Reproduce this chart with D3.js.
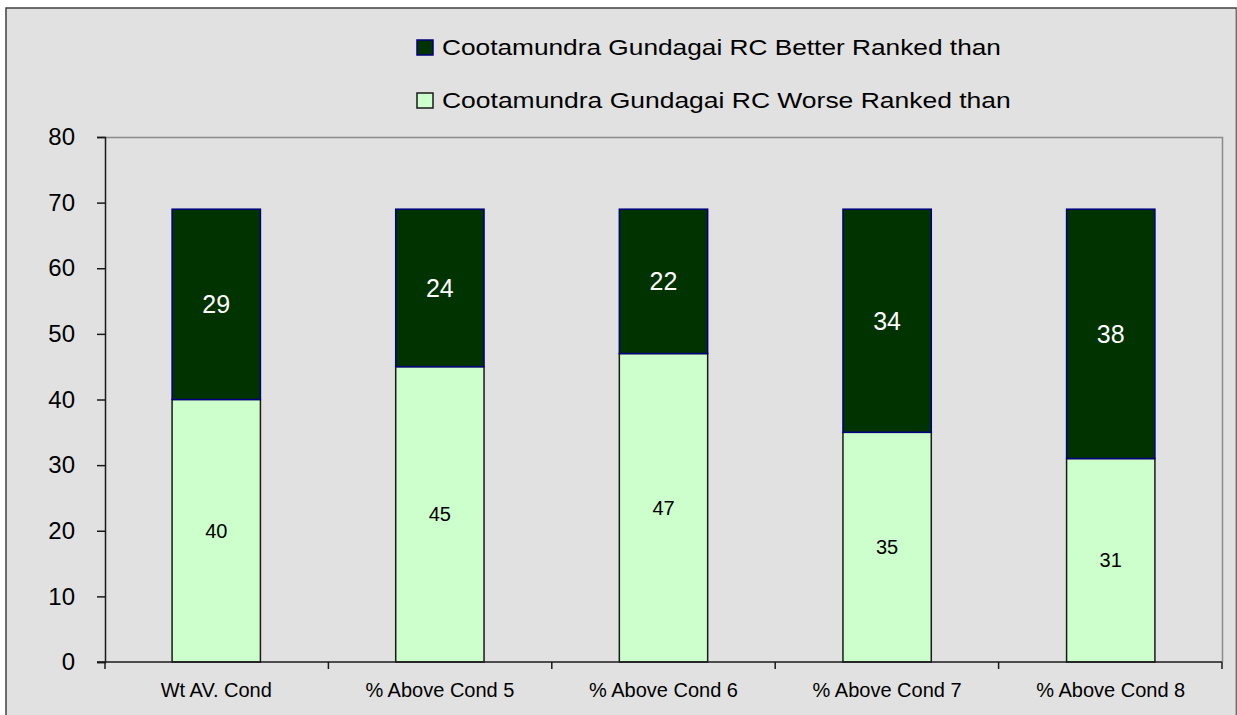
<!DOCTYPE html>
<html>
<head>
<meta charset="utf-8">
<script src="https://cdn.jsdelivr.net/npm/d3@7"></script>
<style>
  html, body { margin: 0; padding: 0; background: #ffffff; }
  svg { display: block; font-family: Arial, "Liberation Sans", sans-serif; }
</style>
</head>
<body>
<svg id="chart"></svg>
<script>
// data
var categories = ["Wt AV. Cond", "% Above Cond 5", "% Above Cond 6", "% Above Cond 7", "% Above Cond 8"];
var worseRanked = [40, 45, 47, 35, 31];
var betterRanked = [29, 24, 22, 34, 38];
var seriesNames = ["Cootamundra Gundagai RC Better Ranked than", "Cootamundra Gundagai RC Worse Ranked than"];
var yTicks = [0, 10, 20, 30, 40, 50, 60, 70, 80];

var width = 1237, height = 715;
var margins = { left: 105, right: 1237 - 1222, top: 137, bottom: 715 - 662 };

var svg = d3.select("svg#chart").attr("width", width).attr("height", height);

// chart frame
svg.append("rect")
  .attr("x", 6).attr("y", 8)
  .attr("width", 1230).attr("height", 720)
  .attr("fill", "#e1e1e1")
  .attr("stroke", "#404040")
  .attr("stroke-width", 1.5);
svg.append("line")
  .attr("x1", 1235.5).attr("x2", 1235.5).attr("y1", 9).attr("y2", 715)
  .attr("stroke", "#b0b0b0").attr("stroke-width", 1);

var xScale = d3.scaleBand()
  .domain(categories)
  .range([margins.left, width - margins.right])
  .paddingInner(0.605)
  .paddingOuter(0.3);

var xEdges = d3.scaleLinear()
  .domain([0, categories.length])
  .range([margins.left, width - margins.right]);

var yScale = d3.scaleLinear()
  .domain([0, 80])
  .range([height - margins.bottom, margins.top]);

// plot area border (grey top / right)
svg.append("path")
  .attr("d", "M" + margins.left + "," + (yScale(80) + 0.5) + "H" + (width - margins.right + 0.5) + "V" + yScale(0))
  .attr("fill", "none")
  .attr("stroke", "#8c8c8c")
  .attr("stroke-width", 1.5);

var rows = categories.map(function (c, i) {
  return { cat: c, worse: worseRanked[i], better: betterRanked[i] };
});

var barsGroup = svg.append("g").attr("id", "bars");

barsGroup.selectAll("rect.worse")
  .data(rows)
  .join("rect")
  .attr("class", "worse")
  .attr("x", function (d) { return xScale(d.cat); })
  .attr("width", xScale.bandwidth())
  .attr("y", function (d) { return yScale(d.worse); })
  .attr("height", function (d) { return yScale(0) - yScale(d.worse); })
  .attr("fill", "#ccffcc")
  .attr("stroke", "#1a1a1a")
  .attr("stroke-width", 1.5);

barsGroup.selectAll("rect.better")
  .data(rows)
  .join("rect")
  .attr("class", "better")
  .attr("x", function (d) { return xScale(d.cat); })
  .attr("width", xScale.bandwidth())
  .attr("y", function (d) { return yScale(d.worse + d.better); })
  .attr("height", function (d) { return yScale(d.worse) - yScale(d.worse + d.better); })
  .attr("fill", "#003300")
  .attr("stroke", "#000080")
  .attr("stroke-width", 1.5);

// value labels
barsGroup.selectAll("text.worse")
  .data(rows)
  .join("text")
  .attr("class", "worse")
  .attr("x", function (d) { return xScale(d.cat) + xScale.bandwidth() / 2; })
  .attr("y", function (d) { return yScale(d.worse / 2); })
  .attr("text-anchor", "middle")
  .attr("dominant-baseline", "central")
  .attr("font-size", 20)
  .attr("fill", "#000")
  .text(function (d) { return d.worse; });

barsGroup.selectAll("text.better")
  .data(rows)
  .join("text")
  .attr("class", "better")
  .attr("x", function (d) { return xScale(d.cat) + xScale.bandwidth() / 2; })
  .attr("y", function (d) { return yScale(d.worse + d.better / 2); })
  .attr("text-anchor", "middle")
  .attr("dominant-baseline", "central")
  .attr("font-size", 25)
  .attr("fill", "#ffffff")
  .text(function (d) { return d.better; });

// y axis
var yAxis = svg.append("g")
  .attr("transform", "translate(" + margins.left + ",0)")
  .call(d3.axisLeft(yScale).tickValues(yTicks).tickSize(8).tickPadding(22));
yAxis.select(".domain").attr("stroke", "#1a1a1a").attr("stroke-width", 1.5);
yAxis.selectAll(".tick line").attr("stroke", "#1a1a1a").attr("stroke-width", 1.5);
yAxis.selectAll(".tick text").attr("font-size", 24).attr("fill", "#000")
  .attr("font-family", "Arial, 'Liberation Sans', sans-serif");

// x axis: category labels, ticks at band edges
var xAxis = svg.append("g").attr("transform", "translate(0," + yScale(0) + ")");
xAxis.append("line")
  .attr("x1", margins.left - 8).attr("x2", width - margins.right)
  .attr("stroke", "#1a1a1a").attr("stroke-width", 1.5);
xAxis.selectAll("line.edge")
  .data(d3.range(categories.length + 1))
  .join("line")
  .attr("class", "edge")
  .attr("x1", function (d) { return xEdges(d); })
  .attr("x2", function (d) { return xEdges(d); })
  .attr("y1", 0).attr("y2", 7)
  .attr("stroke", "#1a1a1a").attr("stroke-width", 1.5);
xAxis.selectAll("text")
  .data(categories)
  .join("text")
  .attr("x", function (d) { return xScale(d) + xScale.bandwidth() / 2; })
  .attr("y", 35)
  .attr("text-anchor", "middle")
  .attr("font-size", 20)
  .attr("fill", "#000")
  .text(function (d) { return d; });

// legend
var legend = svg.append("g").attr("id", "legend");
var legendFills = ["#003300", "#ccffcc"];
var legendStrokes = ["#000080", "#1a1a1a"];
var legendWidths = [559, 569];
legend.selectAll("rect")
  .data(seriesNames)
  .join("rect")
  .attr("x", 417)
  .attr("y", function (d, i) { return 40 + i * 53; })
  .attr("width", 16).attr("height", 15)
  .attr("fill", function (d, i) { return legendFills[i]; })
  .attr("stroke", function (d, i) { return legendStrokes[i]; })
  .attr("stroke-width", 1.5);
// the reference text is wider than its height suggests, so stretch it in x
legend.selectAll("text")
  .data(seriesNames)
  .join("text")
  .attr("font-size", 22)
  .attr("fill", "#000")
  .text(function (d) { return d; })
  .each(function (d, i) {
    var el = d3.select(this);
    var sx = legendWidths[i] / this.getComputedTextLength();
    el.attr("transform", "translate(442," + (55 + i * 53) + ") scale(" + sx + ",1)");
  });
</script>
</body>
</html>
